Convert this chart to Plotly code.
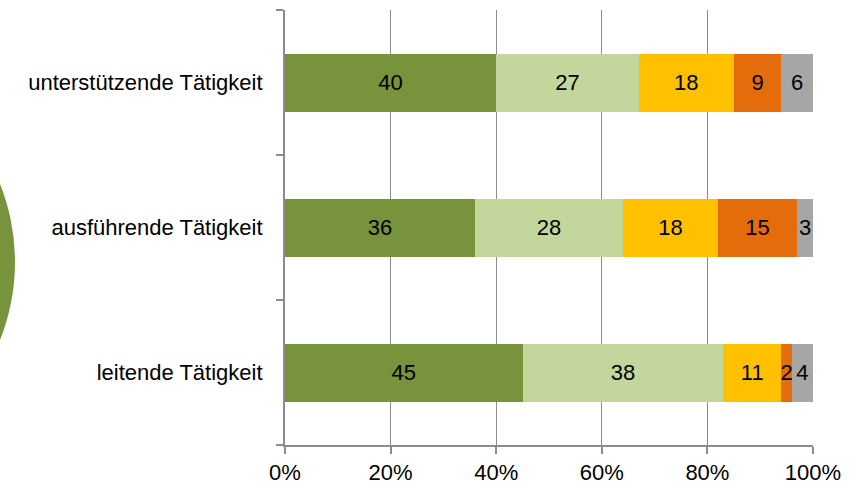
import plotly.graph_objects as go

# Job levels (bottom to top) and the five answer shares in percent
categories = ["leitende Tätigkeit", "ausführende Tätigkeit", "unterstützende Tätigkeit"]
share_1 = [45, 36, 40]
share_2 = [38, 28, 27]
share_3 = [11, 18, 18]
share_4 = [2, 15, 9]
share_5 = [4, 3, 6]
x_ticks = [0, 20, 40, 60, 80, 100]
x_tick_labels = ["0%", "20%", "40%", "60%", "80%", "100%"]

series = [share_1, share_2, share_3, share_4, share_5]
colors = ["#77933C", "#C3D69B", "#FFC000", "#E46C0A", "#A6A6A6"]

FONT = "Liberation Sans, Arial, sans-serif"
FS = 22
GRID = "#8C8C8C"

fig = go.Figure()
for vals, col in zip(series, colors):
    fig.add_trace(go.Bar(
        y=categories, x=vals, orientation="h",
        marker=dict(color=col, line=dict(width=0)),
        text=[str(v) for v in vals],
        textposition="inside", insidetextanchor="middle",
        textangle=0, constraintext="none",
        textfont=dict(family=FONT, size=FS, color="black"),
        hoverinfo="skip", showlegend=False,
    ))

# Decorative green disc at the left edge
L, T, W, H = 285, 10, 528, 435
def px(p):
    return (p - L) / W
def py(p):
    return (T + H - p) / H
fig.add_shape(type="circle", xref="paper", yref="paper",
              x0=px(-405), x1=px(15), y0=py(472), y1=py(52),
              fillcolor="#77933C", line=dict(width=0), layer="below")

fig.update_layout(
    width=850, height=494,
    margin=dict(l=L, r=850 - L - W, t=T, b=494 - T - H),
    barmode="stack", bargap=0.6,
    plot_bgcolor="white", paper_bgcolor="white",
    font=dict(family=FONT, size=FS, color="black"),
    xaxis=dict(
        range=[0, 100], tickvals=x_ticks, ticktext=x_tick_labels,
        showgrid=True, gridcolor=GRID, gridwidth=1.3,
        showline=True, linecolor=GRID, linewidth=2,
        ticks="outside", ticklen=7, tickcolor=GRID, tickwidth=1.5,
        tickfont=dict(family=FONT, size=FS, color="black"),
        zeroline=False, fixedrange=True,
    ),
    yaxis=dict(
        type="category", categoryorder="array", categoryarray=categories,
        range=[-0.5, 2.5], tickson="boundaries",
        showline=True, linecolor=GRID, linewidth=2,
        ticks="outside", ticklen=7, tickcolor=GRID, tickwidth=1.5,
        showgrid=False, ticklabelstandoff=16,
        tickfont=dict(family=FONT, size=FS, color="black"),
        fixedrange=True,
    ),
)

fig.write_html("out.html")
